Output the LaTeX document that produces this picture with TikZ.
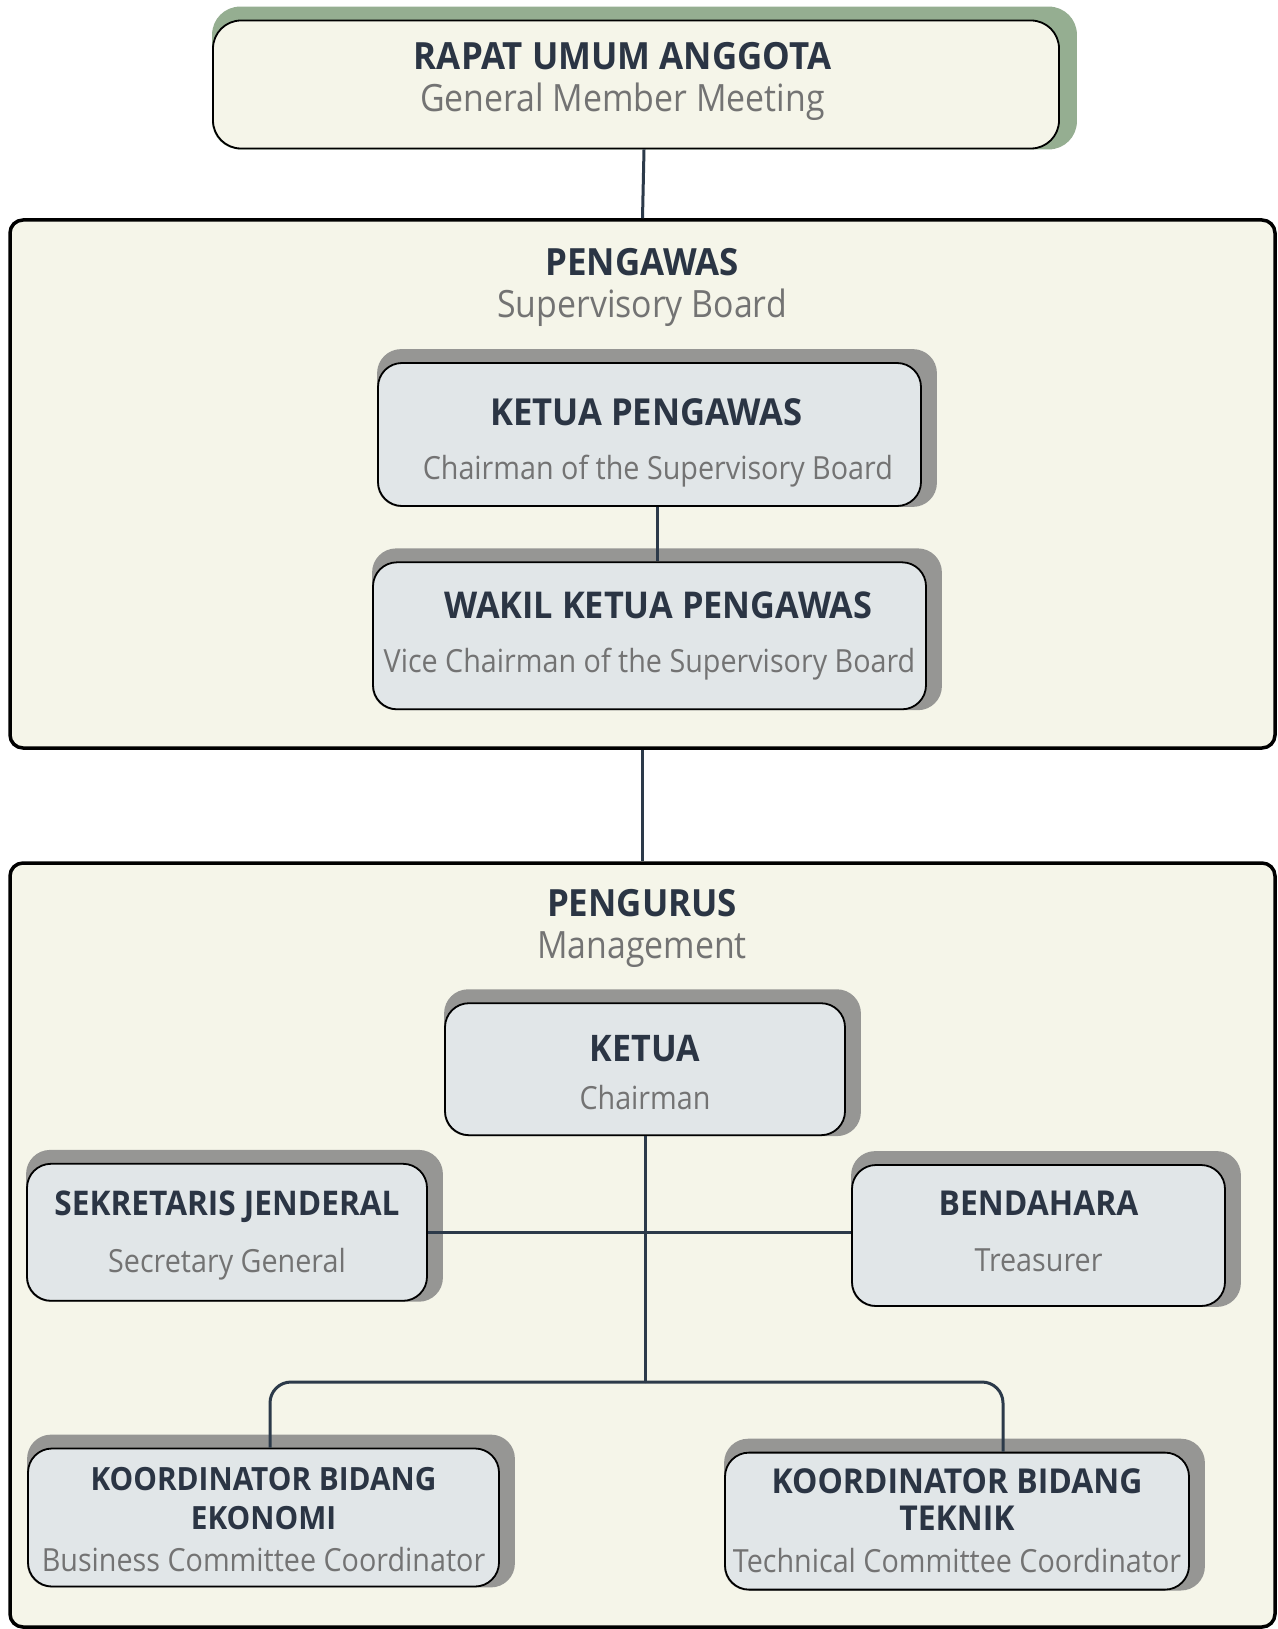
\documentclass[tikz,border=0pt]{standalone}
\usepackage{fontspec}
\setmainfont{Open Sans}[FakeStretch=0.9]
\newfontfamily\headfam{Open Sans}[FakeStretch=0.93]
\usetikzlibrary{positioning}

\definecolor{cream}{HTML}{F5F5E9}
\definecolor{paleblue}{HTML}{E1E6E8}
\definecolor{shadegray}{HTML}{969694}
\definecolor{sage}{HTML}{95AE91}
\definecolor{navy}{HTML}{2B3544}
\definecolor{subgray}{HTML}{737373}
\definecolor{linkcol}{HTML}{2C3A4A}

\pgfdeclarelayer{boards}
\pgfdeclarelayer{shades}
\pgfsetlayers{boards,shades,main}

% title in Indonesian, subtitle in English
\newcommand{\tophead}{\headfam\bfseries\fontsize{37.5}{30}\selectfont\color{navy}}
\newcommand{\topsub}{\fontsize{37.6}{30}\selectfont\color{subgray}}
\newcommand{\unithead}[1][37]{\headfam\bfseries\fontsize{#1}{30}\selectfont\color{navy}}
\newcommand{\unitsub}{\fontsize{31.9}{30}\selectfont\color{subgray}}
% struts to move the text block inside its box
\newcommand{\upstrut}[1]{\rule{0pt}{#1pt}}
\newcommand{\downstrut}[1]{\rule[-#1pt]{0pt}{#1pt}}

\begin{document}
\begin{tikzpicture}[x=1pt,y=-1pt,
    board/.style={draw=black, line width=3.5pt, fill=cream, rounded corners=13pt},
    unit/.style={draw=black, line width=1.8pt, fill=paleblue, rounded corners=24pt,
      align=center, inner sep=0pt, font=\fontsize{30}{30}\selectfont},
    heading/.style={align=center, inner sep=0pt, font=\fontsize{30}{30}\selectfont},
    link/.style={draw=linkcol, line width=3pt}]

  \begin{pgfonlayer}{boards}
    \fill[white] (0,0) rectangle (1277,1629);
    \node[board, minimum width=1265pt, minimum height=528pt] (pengawas) at (642.5,484) {};
    \node[board, minimum width=1265pt, minimum height=764pt] (pengurus) at (642.5,1245) {};
  \end{pgfonlayer}
  \useasboundingbox (0,0) rectangle (1277,1629);

  \node[unit, fill=cream, rounded corners=28pt, minimum width=846pt, minimum height=128pt] (rapat) at (636,84.5)
    {{\tophead RAPAT UMUM ANGGOTA\hspace*{27pt}}\\[12.4pt]{\topsub General Member Meeting\hspace*{27pt}\downstrut{15}}};

  \node[heading] (pengawas-title) at (642,287.5)
    {{\tophead PENGAWAS}\\[12pt]{\topsub Supervisory Board}};
  \node[unit, minimum width=543pt, minimum height=143pt] (kp) at (649.5,434.5)
    {{\unithead[37.2]\upstrut{43.7}KETUA PENGAWAS\hspace*{6pt}}\\[23.6pt]{\unitsub\hspace*{16.6pt}Chairman of the Supervisory Board}};
  \node[unit, minimum width=553pt, minimum height=147pt, below=54.5pt of kp] (wkp)
    {{\unithead[36.9]\hspace*{17.6pt}WAKIL KETUA PENGAWAS}\\[24pt]{\unitsub Vice Chairman of the Supervisory Board}};

  \node[heading] (pengurus-title) at (642,928.3)
    {{\tophead PENGURUS}\\[12pt]{\topsub Management}};
  \node[unit, minimum width=400pt, minimum height=132pt] (ketua) at (645,1069.2)
    {{\unithead[36.6]\upstrut{33}KETUA}\\[18.6pt]{\unitsub Chairman}};
  \node[unit, minimum width=400pt, minimum height=137pt] (sekjen) at (227,1232.3)
    {{\unithead[34]\upstrut{31}SEKRETARIS JENDERAL}\\[25.4pt]{\unitsub Secretary General}};
  \node[unit, minimum width=373pt, minimum height=141pt] (bendahara) at (1038.5,1235.5)
    {{\unithead[34.3] BENDAHARA}\\[26.7pt]{\unitsub Treasurer\downstrut{8.8}}};
  \node[unit, minimum width=471pt, minimum height=138pt] (kbe) at (263.5,1517.5)
    {{\unithead[32]\upstrut{27.8}KOORDINATOR BIDANG}\\[8.5pt]{\unithead[32] EKONOMI}\\[12.6pt]{\unitsub Business Committee Coordinator}};
  \node[unit, minimum width=464pt, minimum height=137pt] (kbt) at (957,1521.1)
    {{\unithead[34.3] KOORDINATOR BIDANG}\\[7pt]{\unithead[34.3] TEKNIK}\\[12pt]{\unitsub Technical Committee Coordinator}};

  % shadows behind the boxes
  \begin{pgfonlayer}{shades}
    \fill[sage, rounded corners=28pt] (rapat.south west) rectangle ([xshift=17pt,yshift=13pt]rapat.north east);
    \foreach \n in {kp,wkp,ketua,sekjen,bendahara,kbe,kbt}
      \fill[shadegray, rounded corners=24pt] (\n.south west) rectangle ([xshift=15pt,yshift=13pt]\n.north east);
  \end{pgfonlayer}

  \path[link] ([xshift=8pt]rapat.south) -- (pengawas.north);
  \path[link] ([xshift=8pt]kp.south) -- ([xshift=8pt]wkp.north);
  \path[link] (pengawas.south) -- (pengurus.north);
  \path[link] (sekjen.east) -- (sekjen.east -| bendahara.west);
  \coordinate (bus) at (ketua.south |- 0,1382);
  \path[link] (ketua.south) -- (bus);
  \path[link, rounded corners=21pt] (bus) -| ([xshift=6.5pt]kbe.north);
  \path[link, rounded corners=21pt] (bus) -| ([xshift=46pt]kbt.north);
\end{tikzpicture}
\end{document}
